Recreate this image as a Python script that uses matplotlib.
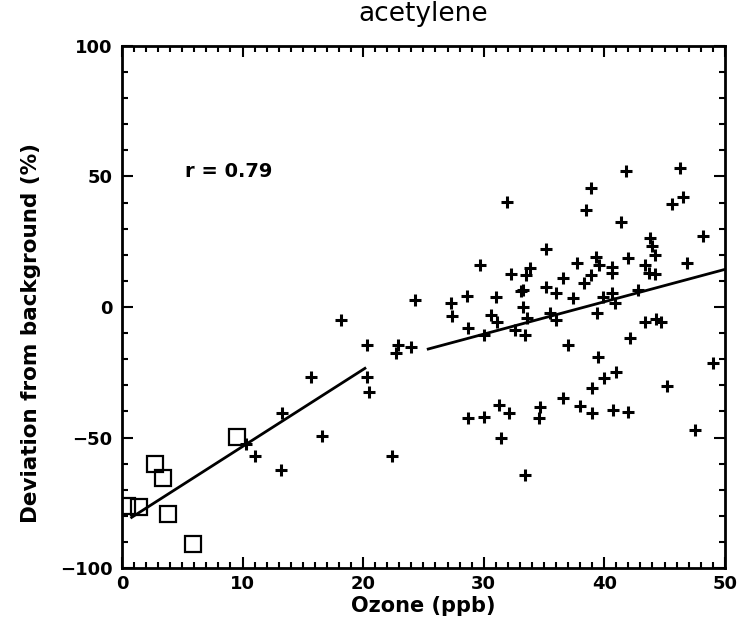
import numpy as np
import matplotlib
matplotlib.use('Agg')
import matplotlib.pyplot as plt
from matplotlib.ticker import MultipleLocator

# low-ozone samples (squares)
sq_x = [0.4, 1.4, 2.7, 3.4, 3.8, 5.9, 9.5]
sq_y = [-76.1, -76.5, -60.2, -65.6, -79.2, -90.7, -49.7]

# other samples (plus signs)
pl_x = [18.2, 20.3, 22.7, 22.9, 24.0, 24.3, 15.7, 20.3, 20.5, 13.3, 16.6, 10.3, 11.0, 13.2, 22.4,
        31.9, 35.2, 29.7, 32.3, 33.5, 33.8, 27.3, 28.6, 31.0, 33.1, 27.4, 30.6, 33.3,
        41.8, 46.3, 38.9, 38.5, 46.5, 45.6, 41.4, 48.2, 43.8, 44.0, 44.2, 42.0, 46.9, 43.4,
        43.7, 44.2, 37.7, 39.3, 39.6, 40.6, 40.6, 38.3, 38.9, 36.6, 37.4, 39.9, 40.6, 40.9,
        39.4, 42.8, 35.2, 36.0, 33.3, 35.5,
        28.7, 30.0, 31.1, 32.6, 33.6, 33.4, 36.0, 37.0,
        28.7, 30.0, 31.3, 32.1, 31.4, 34.7, 34.6, 36.6, 33.4,
        39.5, 42.1, 43.4, 44.3, 44.7, 41.0, 40.0, 39.0, 38.0, 39.0, 40.7, 42.0, 45.2, 49.0, 47.5]
pl_y = [-5.0, -14.6, -17.7, -14.6, -15.4, 2.7, -26.8, -26.9, -32.4, -40.7, -49.3, -52.5, -57.0, -62.5, -57.1,
        40.1, 22.3, 16.0, 12.6, 12.3, 14.8, 1.4, 4.3, 3.7, 6.2, -3.5, -3.1, 0.1,
        52.1, 53.4, 45.5, 37.2, 42.0, 39.3, 32.4, 27.2, 26.3, 23.5, 19.9, 18.7, 16.7, 16.1,
        13.1, 12.6, 16.7, 19.3, 16.1, 15.4, 12.9, 9.3, 12.3, 11.0, 3.3, 3.9, 5.2, 1.4,
        -2.4, 6.5, 7.8, 5.2, 6.5, -2.4,
        -8.2, -10.7, -5.6, -8.8, -4.3, -10.7, -5.0, -14.6,
        -42.6, -42.0, -37.5, -40.7, -50.3, -38.2, -42.6, -35.0, -64.4,
        -19.0, -12.0, -5.6, -4.7, -5.6, -24.8, -27.1, -31.2, -37.9, -40.7, -39.5, -40.1, -30.3, -21.3, -47.1]

# regression lines (end points)
fit1_x = [0.8, 20.15]
fit1_y = [-80.6, -23.5]
fit2_x = [25.4, 50.0]
fit2_y = [-16.1, 14.4]

plt.rcParams['font.family'] = 'DejaVu Sans'

fig = plt.figure(figsize=(7.37, 6.36), dpi=100)
ax = fig.add_axes([0.1655, 0.1069, 0.818, 0.8208])

ax.plot(sq_x, sq_y, linestyle='none', marker='s', markersize=11,
        markerfacecolor='none', markeredgecolor='black', markeredgewidth=1.6)
ax.plot(pl_x, pl_y, linestyle='none', marker='+', markersize=9,
        markeredgecolor='black', markeredgewidth=2.2)
ax.plot(fit1_x, fit1_y, color='black', linewidth=2)
ax.plot(fit2_x, fit2_y, color='black', linewidth=2)

ax.text(5.2, 52, 'r = 0.79', fontsize=14, fontweight='bold', va='center', ha='left')

ax.set_xlim(0, 50)
ax.set_ylim(-100, 100)
ax.xaxis.set_major_locator(MultipleLocator(10))
ax.xaxis.set_minor_locator(MultipleLocator(1))
ax.yaxis.set_major_locator(MultipleLocator(50))
ax.yaxis.set_minor_locator(MultipleLocator(10))
ax.tick_params(which='both', direction='in', top=True, right=True, width=1.5)
ax.tick_params(axis='x', pad=5)
ax.tick_params(axis='y', pad=7)
ax.tick_params(which='major', length=8)
ax.tick_params(which='minor', length=4)
ax.set_yticks([-100, -50, 0, 50, 100])
ax.set_yticklabels(['\u2212100', '\u221250', '0', '50', '100'])
for lab in ax.get_xticklabels() + ax.get_yticklabels():
    lab.set_fontsize(13)
    lab.set_fontweight('bold')
for s in ax.spines.values():
    s.set_linewidth(2)

ax.set_title('acetylene', fontsize=19, pad=18)
ax.set_xlabel('Ozone (ppb)', fontsize=15, fontweight='bold', labelpad=2)
ax.set_ylabel('Deviation from background (%)', fontsize=15.5, fontweight='bold')
ax.yaxis.set_label_coords(-0.135, 0.45)

fig.savefig('out.png', dpi=100)
